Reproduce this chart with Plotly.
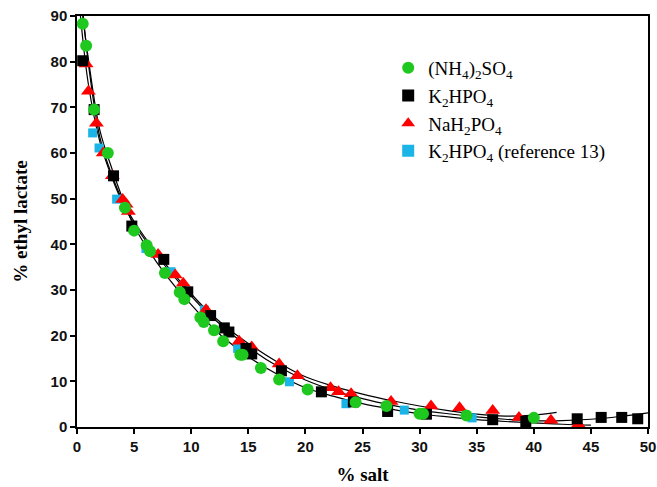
import plotly.graph_objects as go

# (NH4)2SO4 data
amm_x = [0.5, 0.8, 1.5, 2.7, 4.2, 5.0, 6.1, 6.4, 7.7, 9.0, 9.4, 10.8, 11.1, 12.0, 12.8, 14.3, 14.5,
         16.1, 17.7, 20.2, 24.4, 27.1, 30.0, 30.3, 34.1, 40.0]
amm_y = [88.3, 83.5, 69.5, 60.0, 48.0, 43.0, 39.8, 38.5, 33.7, 29.5, 28.0, 24.0, 23.0, 21.2, 18.8, 15.8, 15.8,
         12.9, 10.4, 8.2, 5.4, 4.6, 2.9, 2.9, 2.5, 2.0]

# K2HPO4 data
k2_x = [0.5, 1.5, 3.2, 4.8, 7.6, 9.7, 11.7, 12.9, 13.3, 14.8, 15.3, 17.9, 21.4, 24.2, 27.2, 30.6,
        36.4, 39.3, 43.8, 45.9, 47.7, 49.1]
k2_y = [80.2, 69.5, 55.0, 44.0, 36.7, 29.6, 24.4, 21.7, 20.8, 17.2, 16.0, 12.3, 7.7, 5.5, 3.4, 2.8,
        1.6, 1.2, 1.8, 2.1, 2.1, 1.8]

# NaH2PO4 data
na_x = [0.8, 1.0, 1.7, 2.3, 3.1, 4.0, 4.3, 4.5, 7.1, 8.6, 9.3, 11.3, 14.2, 15.3, 17.7, 19.3,
        22.2, 22.9, 24.0, 27.5, 31.0, 33.5, 36.4, 38.7, 41.5, 43.9]
na_y = [79.5, 73.5, 66.5, 60.0, 55.0, 49.8, 48.8, 47.2, 37.8, 33.3, 31.5, 25.7, 18.8, 17.5, 13.8, 11.2,
        8.6, 7.7, 7.3, 5.6, 4.6, 4.2, 3.6, 2.1, 1.5, 0.6]

# K2HPO4 (reference 13) data
ref_x = [1.37, 1.93, 3.47, 6.04, 8.23, 11.15, 14.07, 18.6, 23.55, 28.66, 34.6]
ref_y = [64.4, 61.1, 49.9, 39.1, 34.0, 25.6, 17.2, 9.9, 5.1, 3.7, 2.0]

# fitted curves
fit_na_x = [0.55, 1, 2, 3, 4, 5, 7, 9, 11, 13, 15, 17.5, 20, 22.5, 25, 27.5, 30, 32.5, 35, 37.5, 40, 42]
fit_na_y = [90, 79.5, 63.5, 55.5, 49.5, 45, 38, 32, 26.5, 22, 18.3, 14.3, 11.0, 8.9, 7.2, 5.8, 4.6, 3.6, 2.8, 2.4, 2.6, 3.2]

fit_k2_x = [0.3, 1, 2, 3, 4, 5, 7, 9, 11, 13, 15, 17.5, 20, 22.5, 25, 27.5, 30, 32.5, 35, 37.5, 40, 42.5, 45, 47.5, 50]
fit_k2_y = [90, 75, 62.5, 55, 49, 44.5, 37.5, 31.5, 26, 21.5, 17.5, 13.4, 10.3, 8.0, 6.2, 4.8, 3.7, 2.9, 2.2, 1.7, 1.4, 1.4, 1.7, 2.3, 3.1]

fit_amm_x = [0.5, 1, 2, 3, 4, 5, 7, 9, 10, 11, 12, 13, 15, 17.5, 20, 22.5, 25, 27.5, 30, 32.5, 35, 37.5, 40, 42.5, 45]
fit_amm_y = [90, 80.5, 65, 57, 50, 44, 36, 29.5, 26.8, 24.0, 21.5, 19.2, 15.4, 11.6, 8.6, 6.7, 5.1, 3.9, 2.9, 2.2, 1.6, 1.2, 0.9, 0.6, 0.4]

fig = go.Figure()
for fx, fy in [(fit_na_x, fit_na_y), (fit_k2_x, fit_k2_y), (fit_amm_x, fit_amm_y)]:
    fig.add_trace(go.Scatter(x=fx, y=fy, mode="lines", line=dict(color="black", width=1.2, shape="spline"),
                             showlegend=False, hoverinfo="skip", cliponaxis=True))

fig.add_trace(go.Scatter(x=ref_x, y=ref_y, mode="markers", name="K<sub>2</sub>HPO<sub>4</sub> (reference 13)",
                         marker=dict(symbol="square", size=9, color="#1ab4e6"), cliponaxis=False))
fig.add_trace(go.Scatter(x=na_x, y=na_y, mode="markers", name="NaH<sub>2</sub>PO<sub>4</sub>",
                         marker=dict(symbol="triangle-up", size=13, color="#ff0000"), cliponaxis=False))
fig.add_trace(go.Scatter(x=k2_x, y=k2_y, mode="markers", name="K<sub>2</sub>HPO<sub>4</sub>",
                         marker=dict(symbol="square", size=11, color="black"), cliponaxis=False))
fig.add_trace(go.Scatter(x=amm_x, y=amm_y, mode="markers", name="(NH<sub>4</sub>)<sub>2</sub>SO<sub>4</sub>",
                         marker=dict(symbol="circle", size=12, color="#1ec81e"), cliponaxis=False))

axis_common = dict(showline=True, linecolor="black", linewidth=1.5, mirror=True, ticks="outside",
                   ticklen=5, tickwidth=1.5, tickcolor="black", showgrid=False, zeroline=False,
                   automargin=False, ticklabeloverflow="allow",
                   tickfont=dict(family="Liberation Sans", size=15, color="#111111", weight="bold"))

fig.update_layout(
    width=657, height=487,
    margin=dict(l=77, r=9, t=16, b=60),
    paper_bgcolor="white", plot_bgcolor="white",
    xaxis=dict(range=[0, 50], dtick=5, tick0=0,
               title=dict(text="<b>% salt</b>", font=dict(family="Liberation Serif", size=19, color="black"), standoff=14),
               **axis_common),
    yaxis=dict(range=[0, 90], dtick=10, tick0=0,
               title=dict(text="<b>% ethyl lactate</b>", font=dict(family="Liberation Serif", size=19, color="black"), standoff=18),
               **axis_common),
    legend=dict(x=0.545, y=0.92, xanchor="left", yanchor="top", traceorder="reversed",
                font=dict(family="Liberation Serif", size=19, color="black"),
                bgcolor="rgba(0,0,0,0)", tracegroupgap=12, itemsizing="constant"),
    showlegend=True,
)

fig.write_html("out.html", config={"displayModeBar": False},
               post_script="document.body.style.margin='0';document.body.style.overflow='hidden';")
